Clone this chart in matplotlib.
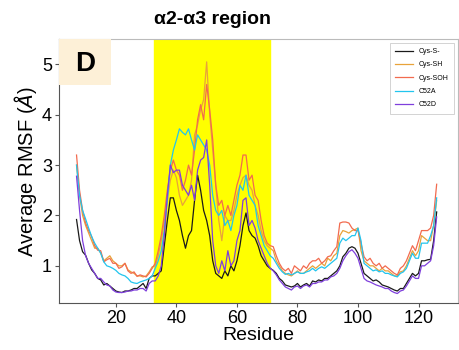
import numpy as np
import matplotlib
matplotlib.use('Agg')
import matplotlib.pyplot as plt
from matplotlib.patches import Rectangle

plt.rcParams['font.family'] = ['Liberation Sans Narrow', 'Liberation Sans', 'DejaVu Sans']

# residues 7..126
residues = np.arange(7, 127)

labels = ['Cys-S-', 'Cys-SH', 'Cys-SOH', 'C52A', 'C52D']
colors = ['#1a1a1a', '#e8a33a', '#f26b4f', '#22c5ee', '#7f3fdc']

cys_s = [1.92, 1.5, 1.28, 1.21, 1.05, 0.92, 0.85, 0.75, 0.72, 0.62, 0.65, 0.6, 0.55, 0.5, 0.48, 0.47,
         0.5, 0.5, 0.52, 0.55, 0.55, 0.6, 0.65, 0.55, 0.75, 0.8,
         0.8, 0.85, 0.9, 1.4, 1.9, 2.35, 2.35, 2.1, 1.9, 1.6, 1.35, 1.6, 1.7, 2.3, 2.8, 2.5, 2.1, 1.9,
         1.6, 1.1, 0.85, 0.8, 0.75, 0.9, 0.8, 1.0, 0.9, 1.1, 1.4, 1.8, 2.05, 1.7, 1.6, 1.55, 1.4, 1.2,
         1.1, 1.0,
         0.95, 0.91, 0.85, 0.75, 0.7, 0.62, 0.6, 0.58, 0.6, 0.65, 0.58, 0.62, 0.65, 0.6, 0.7, 0.68,
         0.72, 0.7, 0.75, 0.75, 0.8, 0.85, 0.9, 1.0, 1.18, 1.25, 1.35, 1.38, 1.35, 1.25, 1.05, 0.85,
         0.8, 0.75, 0.7, 0.72, 0.68, 0.62, 0.6, 0.58, 0.55, 0.52, 0.5, 0.55, 0.55, 0.65, 0.75, 0.85,
         0.8, 0.85, 1.1, 1.1, 1.12, 1.13, 1.5, 2.07]

cys_sh = [3.0, 2.4, 2.0, 1.8, 1.65, 1.5, 1.35, 1.35, 1.25, 1.1, 1.15, 1.2, 1.1, 1.05, 1.0, 1.0,
          1.05, 0.92, 0.88, 0.85, 0.8, 0.8, 0.78, 0.8, 0.88, 0.98,
          1.0, 1.2, 1.5, 1.9, 2.3, 2.7, 2.9, 2.75, 2.4, 2.2, 2.3, 2.4, 2.7, 3.6, 3.8, 4.1, 4.3, 5.05,
          4.0, 3.3, 2.6, 1.9, 1.5, 2.0, 1.9, 1.9, 2.1, 2.4, 2.6, 2.75, 2.8, 2.6, 2.5, 2.2, 2.0, 1.7,
          1.5, 1.4,
          1.35, 1.3, 1.1, 1.0, 0.9, 0.85, 0.82, 0.8, 0.85, 0.9, 0.85, 0.85, 0.9, 0.95, 1.0, 0.95,
          1.0, 1.05, 1.0, 1.15, 1.1, 1.2, 1.25, 1.6, 1.7, 1.68, 1.65, 1.7, 1.72, 1.75, 1.3, 1.1,
          1.05, 1.0, 1.0, 0.95, 0.9, 0.95, 0.9, 0.9, 0.85, 0.8, 0.8, 0.88, 0.9, 1.0, 1.15, 1.3,
          1.2, 1.3, 1.6, 1.55, 1.5, 1.5, 1.8, 2.3]

cys_soh = [3.2, 2.5, 2.1, 1.85, 1.7, 1.58, 1.4, 1.31, 1.3, 1.08, 1.12, 1.15, 1.05, 1.05, 0.95, 0.98,
           1.05, 0.9, 0.85, 0.88, 0.79, 0.82, 0.8, 0.78, 0.85, 0.95,
           1.05, 1.3, 1.6, 2.0, 2.5, 2.9, 3.1, 2.9, 2.8, 2.5, 2.7, 3.0, 2.8, 3.3, 3.9, 4.2, 3.9, 4.6,
           4.1, 3.5, 2.6, 2.2, 2.3, 2.0, 2.2, 2.0, 2.3, 2.6, 2.8, 3.2, 3.2, 2.7, 2.8, 2.4, 2.3, 1.9,
           1.6, 1.45,
           1.4, 1.38, 1.2, 1.05, 0.95, 0.9, 0.95, 0.85, 1.0, 0.95, 0.9, 1.0, 0.95, 1.05, 1.1, 1.1,
           1.15, 1.05, 1.1, 1.18, 1.2, 1.3, 1.38, 1.85, 1.87, 1.87, 1.85, 1.75, 1.7, 1.7, 1.45, 1.18,
           1.1, 1.15, 1.05, 1.0, 1.05, 0.95, 1.0, 0.95, 0.9, 0.85, 0.82, 0.95, 1.0, 1.1, 1.25, 1.4,
           1.3, 1.5, 1.7, 1.7, 1.7, 1.75, 2.0, 2.62]

c52a = [3.0, 2.4, 2.1, 1.93, 1.75, 1.58, 1.45, 1.35, 1.25, 1.08, 1.0, 0.98, 0.95, 0.91, 0.85, 0.82,
        0.8, 0.75, 0.68, 0.66, 0.65, 0.68, 0.7, 0.72, 0.75, 0.8,
        0.95, 1.1, 1.3, 1.7, 2.3, 3.0, 3.3, 3.5, 3.72, 3.65, 3.6, 3.72, 3.5, 3.3, 3.6, 3.5, 3.4, 3.3,
        3.0, 2.4, 2.1, 2.0, 2.1, 1.8, 1.9, 1.7, 2.0, 2.2, 2.6, 2.5, 2.8, 2.4, 2.3, 2.2, 1.8, 1.6,
        1.4, 1.3,
        1.2, 1.15, 1.05, 0.95, 0.88, 0.83, 0.85, 0.82, 0.85, 0.88, 0.85, 0.85, 0.88, 0.9, 0.95, 0.9,
        0.95, 0.98, 0.95, 1.0, 1.05, 1.1, 1.15, 1.45, 1.55, 1.5, 1.55, 1.6, 1.6, 1.75, 1.5, 1.05,
        1.0, 0.95, 0.9, 0.92, 0.88, 0.9, 0.85, 0.85, 0.82, 0.8, 0.78, 0.85, 0.88, 0.95, 1.1, 1.25,
        1.15, 1.15, 1.45, 1.45, 1.45, 1.6, 1.8, 2.35]

c52d = [2.78, 2.1, 1.5, 1.2, 1.05, 0.95, 0.85, 0.75, 0.75, 0.68, 0.62, 0.6, 0.52, 0.48, 0.47, 0.47,
        0.48, 0.5, 0.5, 0.52, 0.52, 0.55, 0.55, 0.5, 0.65, 0.7,
        0.7, 0.8, 1.0, 1.6, 2.4, 3.0, 2.85, 2.9, 2.9, 2.6, 2.5, 2.4, 2.6, 2.3, 2.9, 3.1, 3.15, 3.5,
        2.6, 1.5, 1.0, 0.85, 1.1, 0.9, 1.3, 1.0, 1.1, 1.5, 1.7, 2.3, 2.35, 1.8, 1.9, 1.75, 1.5, 1.35,
        1.2, 1.05,
        0.95, 0.9, 0.82, 0.72, 0.65, 0.58, 0.55, 0.52, 0.58, 0.6, 0.55, 0.6, 0.62, 0.58, 0.65, 0.65,
        0.68, 0.68, 0.72, 0.72, 0.78, 0.8, 0.85, 0.95, 1.1, 1.2, 1.28, 1.32, 1.25, 1.15, 0.95, 0.75,
        0.7, 0.68, 0.65, 0.62, 0.6, 0.58, 0.55, 0.55, 0.5, 0.47, 0.45, 0.5, 0.52, 0.6, 0.7, 0.8,
        0.75, 0.75, 1.0, 1.0, 1.05, 1.1, 1.4, 1.97]

series = [cys_s, cys_sh, cys_soh, c52a, c52d]

fig = plt.figure(figsize=(4.59, 3.5), dpi=100)
ax = fig.add_axes([0.1285, 0.134, 0.869, 0.754])

ax.axvspan(32.5, 70.8, color='#ffff00', zorder=0)
for vals, lab, col in zip(series, labels, colors):
    ax.plot(residues, vals, color=col, lw=0.9, label=lab)

ax.set_xlim(1.2, 133)
ax.set_ylim(0.26, 5.5)
ax.set_xticks([20, 40, 60, 80, 100, 120])
ax.set_yticks([1, 2, 3, 4, 5])
ax.tick_params(labelsize=13, length=3, width=0.8, color='#555555', pad=2)
ax.set_xlabel('Residue', fontsize=14, labelpad=0)
ax.set_ylabel('Average RMSF ($\\AA$)', fontsize=14.5, labelpad=2)

for s in ['left', 'bottom']:
    ax.spines[s].set_color('#555555')
for s in ['top', 'right']:
    ax.spines[s].set_color('#bbbbbb')

# panel letter box
ax.add_patch(Rectangle((0, 0.826), 0.13, 0.174, transform=ax.transAxes,
                       facecolor='#fdf0d7', edgecolor='none', zorder=3))
ax.text(0.065, 0.905, 'D', transform=ax.transAxes, fontsize=20, fontweight='bold',
        ha='center', va='center', zorder=4)

fig.text(0.464, 0.943, 'α2-α3 region', fontsize=14, fontweight='bold', ha='center', va='center')

leg = ax.legend(loc='upper right', fontsize=5, handlelength=2.6, labelspacing=0.9,
                borderpad=0.8, fancybox=False, edgecolor='#cccccc', framealpha=1)
leg.get_frame().set_linewidth(0.6)

fig.savefig('out.png', dpi=100)
